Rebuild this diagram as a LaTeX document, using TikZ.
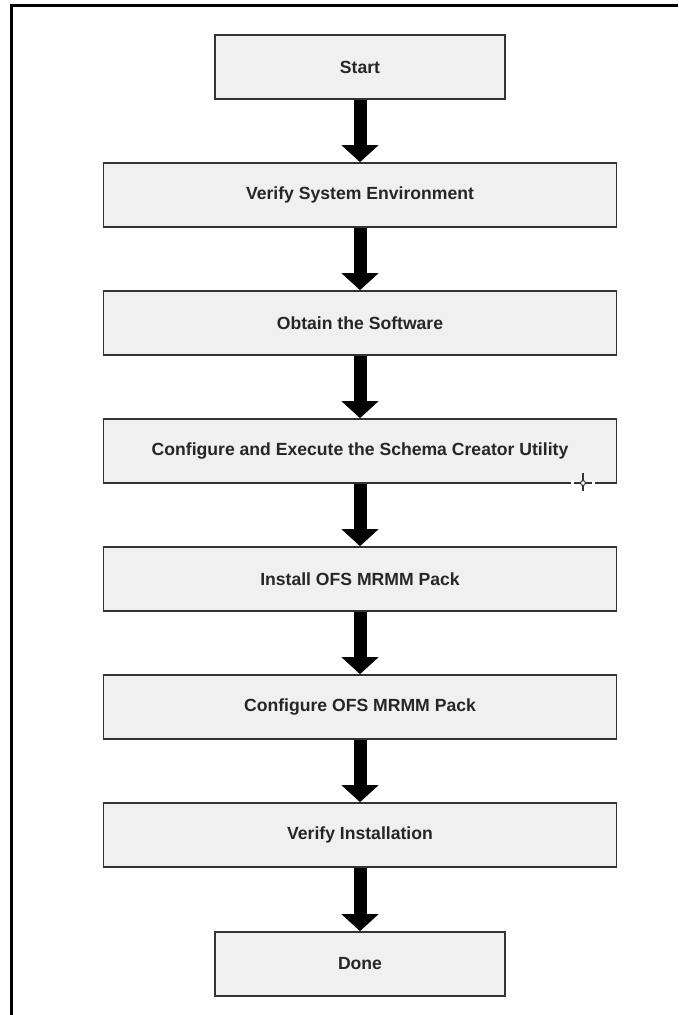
\documentclass[tikz,border=0pt]{standalone}
\usepackage{fontspec}
\setmainfont{Liberation Sans}
\usetikzlibrary{arrows.meta}

\tikzset{
    stage/.style = {draw = black!80, line width = 1.6pt, fill = black!6, text = black!85,
        minimum height = 64pt, font = \bfseries\fontsize{17.6}{20}\selectfont, inner sep = 0pt},
    narrow/.style = {stage, minimum width = 290pt},
    wide/.style = {stage, minimum width = 513pt},
    flow/.style = {line width = 13pt, -{Triangle[width = 36pt, length = 17pt]}}
}

\begin{document}
\begin{tikzpicture}[x = 1pt, y = -1pt, align = center]
        \useasboundingbox (0, 0) rectangle (678, 1015);
        \draw[line width = 3pt] (11, 1015) -- (11, 5) -- (678, 5);

        \node[narrow] (1) at (360, 67) {Start};
        \node[wide] (2) at (360, 195) {Verify System Environment};
        \node[wide] (3) at (360, 323) {Obtain the Software};
        \node[wide] (4) at (360, 451) {Configure and Execute the Schema Creator Utility};
        \node[wide] (5) at (360, 579) {Install OFS MRMM Pack};
        \node[wide] (6) at (360, 707) {Configure OFS MRMM Pack};
        \node[wide] (7) at (360, 835) {Verify Installation};
        \node[narrow] (8) at (360, 964) {Done};

        \draw[flow] (1) -- (2);
        \draw[flow] (2) -- (3);
        \draw[flow] (3) -- (4);
        \draw[flow] (4) -- (5);
        \draw[flow] (5) -- (6);
        \draw[flow] (6) -- (7);
        \draw[flow] (7) -- (8);

        \coordinate (cursor) at (583, 483);
        \fill[white] ([shift = {(-12, -2.5)}]cursor) rectangle ([shift = {(12, 2.5)}]cursor);
        \draw[black!80, line width = 1.3pt] ([xshift = -9]cursor) -- ([xshift = 9]cursor)
            ([yshift = -8]cursor) -- ([yshift = 10]cursor);
        \draw[black!80, fill = white, line width = 1pt] (cursor) circle (2.4);
    \end{tikzpicture}
\end{document}
